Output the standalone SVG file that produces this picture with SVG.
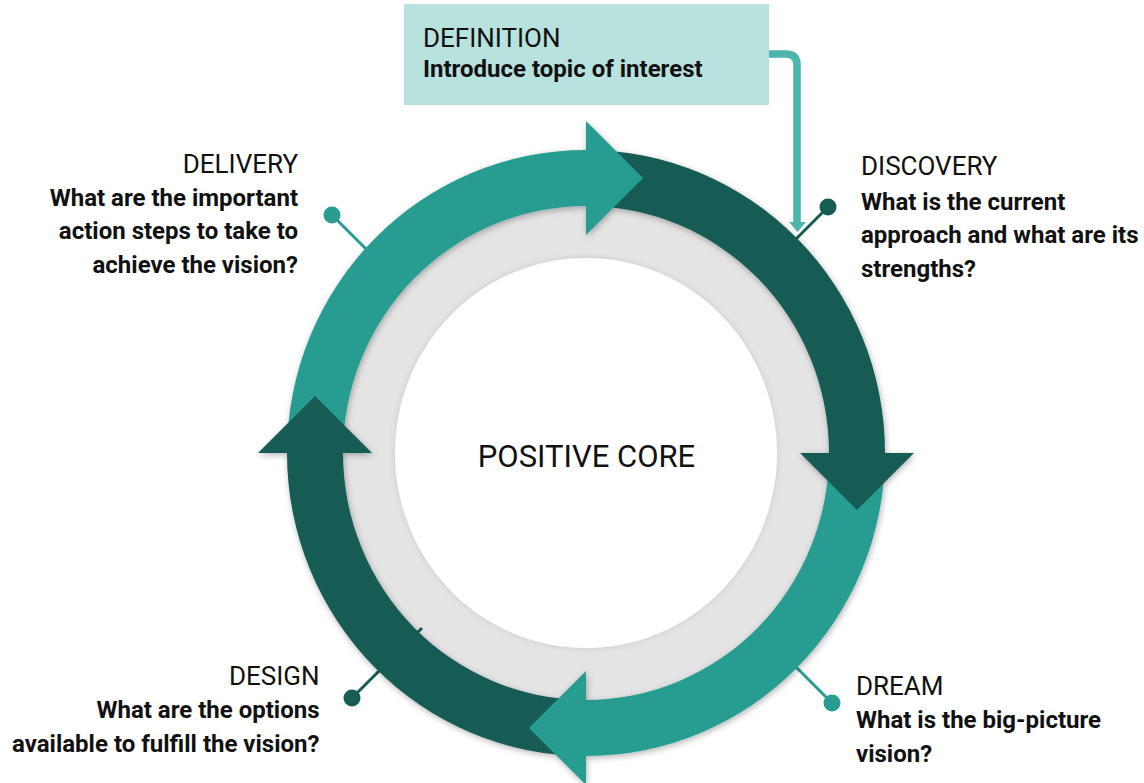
<svg xmlns="http://www.w3.org/2000/svg" width="1144" height="783" viewBox="0 0 1144 783">
  <defs>
    <style>
      .title { font-family: Roboto, "Liberation Sans", sans-serif; font-weight: 400; font-size: 26px; fill: #111; }
      .body { font-family: Roboto, "Liberation Sans", sans-serif; font-weight: 700; font-size: 24px; fill: #111; }
      .core { font-family: Roboto, "Liberation Sans", sans-serif; font-weight: 400; font-size: 31px; fill: #111; }
      .teal { fill: #269d90; }
      .dark { fill: #165c54; }
      .lead-teal { stroke: #269d90; stroke-width: 3; fill: none; }
      .lead-dark { stroke: #165c54; stroke-width: 3; fill: none; }
    </style>
    <filter id="soft" x="-10%" y="-10%" width="120%" height="120%">
      <feDropShadow dx="1" dy="2" stdDeviation="3" flood-color="#000" flood-opacity="0.3"/>
    </filter>
    <filter id="softIn" x="-10%" y="-10%" width="120%" height="120%">
      <feDropShadow dx="0" dy="0" stdDeviation="3" flood-color="#000" flood-opacity="0.12"/>
    </filter>
  </defs>

  <rect width="1144" height="783" fill="#ffffff"/>

  <!-- core discs -->
  <g id="core">
    <ellipse cx="586" cy="453" rx="250" ry="254" fill="#e4e4e4"/>
    <ellipse cx="586" cy="453" rx="191" ry="195" fill="#ffffff" filter="url(#softIn)"/>
    <text class="core" x="586.5" y="466.5" text-anchor="middle">POSITIVE CORE</text>
  </g>

  <!-- connectors -->
  <g id="connectors">
    <path d="M769 54 H786 Q797 54 797 65 V223" stroke="#4db6ac" stroke-width="7.5" fill="none"/>
    <polygon points="789,222 806,222 797.5,232" fill="#4db6ac"/>
    <line class="lead-dark" x1="828" y1="207" x2="792" y2="243"/>
    <circle cx="828" cy="207" r="8.5" class="dark"/>
    <line class="lead-teal" x1="332" y1="215" x2="370" y2="253"/>
    <circle cx="332" cy="215" r="8.5" class="teal"/>
    <line class="lead-teal" x1="832" y1="703" x2="794" y2="665"/>
    <circle cx="832" cy="703" r="8.5" class="teal"/>
    <line class="lead-dark" x1="352" y1="698" x2="422" y2="628"/>
    <circle cx="352" cy="698" r="8.5" class="dark"/>
  </g>

  <!-- cycle ring: four quarter bands, heads drawn last so each overlaps the next band -->
  <g id="cycle" filter="url(#soft)">
    <path class="teal" d="M287 453 A299 303 0 0 1 586 150 L586 206 A243 247 0 0 0 343 453 Z"/>
    <path class="dark" d="M586 150 A299 303 0 0 1 885 453 L829 453 A243 247 0 0 0 586 206 Z"/>
    <path class="teal" d="M885 453 A299 303 0 0 1 586 756 L586 700 A243 247 0 0 0 829 453 Z"/>
    <path class="dark" d="M586 756 A299 303 0 0 1 287 453 L343 453 A243 247 0 0 0 586 700 Z"/>
    <polygon class="teal" points="586,121 643,178 586,235"/>
    <polygon class="dark" points="800,453 914,453 857,510"/>
    <polygon class="teal" points="586,671 586,785 529,728"/>
    <polygon class="dark" points="258,453 372,453 315,396"/>
  </g>

  <g id="definition">
    <rect x="404" y="4" width="365" height="101" fill="#b8e2de"/>
    <text class="title" x="423" y="47">DEFINITION</text>
    <text class="body" x="423" y="77">Introduce topic of interest</text>
  </g>

  <g id="discovery">
    <text class="title" x="861" y="175">DISCOVERY</text>
    <text class="body" x="861" y="210">What is the current</text>
    <text class="body" x="861" y="243.3">approach and what are its</text>
    <text class="body" x="861" y="276.7">strengths?</text>
  </g>

  <g id="dream">
    <text class="title" x="856" y="695">DREAM</text>
    <text class="body" x="856" y="728.3">What is the big-picture</text>
    <text class="body" x="856" y="761.7">vision?</text>
  </g>

  <g id="design" text-anchor="end">
    <text class="title" x="319.5" y="685">DESIGN</text>
    <text class="body" x="319.5" y="718.3">What are the options</text>
    <text class="body" x="319.5" y="751.7">available to fulfill the vision?</text>
  </g>

  <g id="delivery" text-anchor="end">
    <text class="title" x="298" y="172.7">DELIVERY</text>
    <text class="body" x="298" y="206">What are the important</text>
    <text class="body" x="298" y="239.3">action steps to take to</text>
    <text class="body" x="298" y="272.7">achieve the vision?</text>
  </g>
</svg>
